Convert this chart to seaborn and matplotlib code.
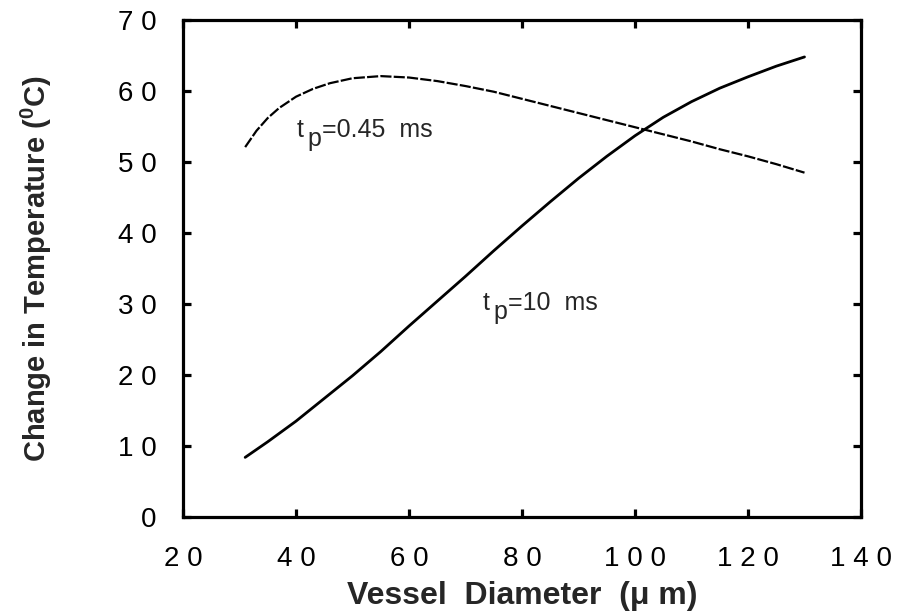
import numpy as np
import pandas as pd
import matplotlib
matplotlib.use("Agg")
import matplotlib.pyplot as plt
import seaborn as sns

# values
diam_short = [31, 33, 35, 37, 40, 43, 46, 50, 55, 60, 65, 70, 75, 80, 85, 90,
              95, 100, 105, 110, 115, 120, 125, 130]
temp_short = [52.1, 54.4, 56.2, 57.6, 59.2, 60.3, 61.1, 61.8, 62.1, 61.9, 61.4,
              60.7, 59.9, 58.9, 57.9, 56.9, 55.9, 54.9, 53.9, 52.9, 51.8, 50.8,
              49.7, 48.5]
diam_long = [31, 35, 40, 45, 50, 55, 60, 65, 70, 75, 80, 85, 90, 95, 100,
             105, 110, 115, 120, 125, 130]
temp_long = [8.4, 10.6, 13.5, 16.7, 19.9, 23.3, 26.9, 30.4, 33.9, 37.5, 41.0,
             44.4, 47.7, 50.8, 53.7, 56.3, 58.5, 60.4, 62.0, 63.5, 64.8]
xticks = [20, 40, 60, 80, 100, 120, 140]
yticks = [0, 10, 20, 30, 40, 50, 60, 70]

sns.set_theme(style="ticks")
plt.rcParams['font.family'] = ['Liberation Sans', 'DejaVu Sans']
plt.rcParams['mathtext.fontset'] = 'custom'
plt.rcParams['mathtext.rm'] = 'Liberation Sans'
plt.rcParams['mathtext.bf'] = 'Liberation Sans:bold'

fig = plt.figure(figsize=(8.98, 6.16), dpi=100)
ax = fig.add_axes([0.2038, 0.1607, 0.7550, 0.8068])

sns.lineplot(x=diam_long, y=temp_long, ax=ax, color='black', linewidth=2.0)
sns.lineplot(x=diam_short, y=temp_short, ax=ax, color='black', linewidth=1.6,
             linestyle=(0, (5, 1)))

ax.set_xlim(20, 140)
ax.set_ylim(0, 70)
ax.set_xticks(xticks)
ax.set_yticks(yticks)
ax.set_xticklabels([' '.join(str(t)) for t in xticks])
ax.set_yticklabels([' '.join(str(t)) for t in yticks])

for s in ax.spines.values():
    s.set_linewidth(2.3)
    s.set_color('black')
ax.tick_params(direction='in', length=6, width=2.3, top=True, right=True,
               labelsize=20, colors='black')
ax.tick_params(axis='x', pad=21)
ax.tick_params(axis='y', pad=19)

ax.set_xlabel('Vessel  Diameter  (\u03bc m)', fontsize=23, fontweight='bold',
              labelpad=6)
ax.set_ylabel(r'Change in Temperature ($^\mathbf{0}$C)', fontsize=21,
              fontweight='bold', labelpad=46)


def label_tp(x, y, rest):
    # t with a large, dropped subscript p, as in the original figure
    ax.text(x, y, 't', fontsize=18)
    ax.annotate('p', xy=(x, y), xytext=(7.5, -6.5), textcoords='offset points',
                fontsize=18)
    ax.annotate(rest, xy=(x, y), xytext=(18, 0), textcoords='offset points',
                fontsize=18)


label_tp(40.1, 53.5, '=0.45  ms')
label_tp(73.1, 29.2, '=10  ms')

fig.savefig('out.png', dpi=100)
